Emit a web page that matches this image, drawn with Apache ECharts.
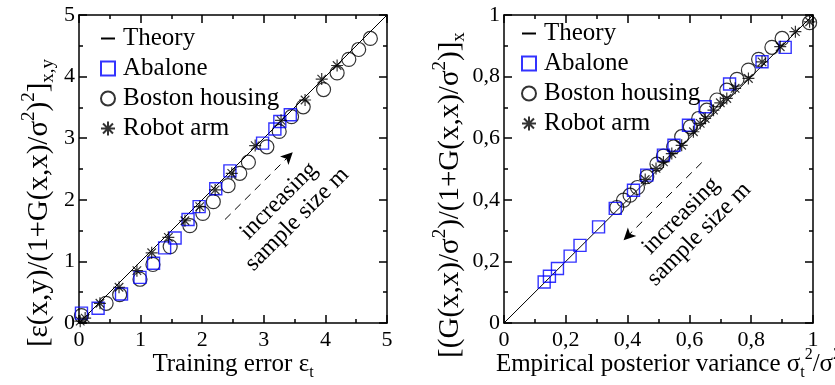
<!DOCTYPE html>
<html>
<head>
<meta charset="utf-8">
<script src="https://cdn.jsdelivr.net/npm/echarts@6/dist/echarts.min.js"></script>
<style>html,body{margin:0;padding:0;background:#fff}#c{width:835px;height:385px}</style>
</head>
<body>
<div id="c"></div>
<script>
// ---- Left panel: training error vs normalised generalisation error ----
var leftTheory = [[0, 0], [5, 5]];
var leftAbalone = [[0.04,0.16],[0.31,0.24],[0.69,0.47],[0.99,0.74],[1.21,0.97],[1.39,1.22],[1.56,1.38],[1.77,1.68],[1.95,1.89],[2.22,2.18],[2.45,2.47],[2.98,2.92],[3.18,3.15],[3.26,3.27],[3.43,3.38]];
var leftBoston = [[0.04,0.12],[0.44,0.32],[0.66,0.46],[0.99,0.71],[1.20,0.95],[1.48,1.24],[1.80,1.58],[2.01,1.78],[2.18,1.97],[2.42,2.23],[2.61,2.43],[2.75,2.61],[3.05,2.86],[3.25,3.11],[3.45,3.35],[3.64,3.51],[3.97,3.79],[4.19,4.06],[4.38,4.28],[4.54,4.44],[4.73,4.62]];
var leftRobot = [[0.02,0.03],[0.10,0.08],[0.34,0.32],[0.65,0.58],[0.94,0.85],[1.18,1.14],[1.45,1.39],[1.72,1.66],[1.96,1.89],[2.21,2.16],[2.48,2.43],[2.86,2.88],[3.28,3.29],[3.67,3.62],[3.94,3.96],[4.19,4.18]];
var leftArrow = [[2.37, 1.68], [3.47, 2.77]];

// ---- Right panel: empirical posterior variance ----
var rightTheory = [[0, 0], [1, 1]];
var rightAbalone = [[0.130,0.133],[0.147,0.152],[0.173,0.177],[0.214,0.217],[0.246,0.252],[0.306,0.312],[0.360,0.372],[0.419,0.431],[0.462,0.480],[0.516,0.545],[0.550,0.577],[0.597,0.642],[0.651,0.702],[0.730,0.776],[0.835,0.848],[0.910,0.895]];
var rightBoston = [[0.365,0.375],[0.387,0.399],[0.408,0.415],[0.432,0.440],[0.462,0.475],[0.495,0.516],[0.516,0.542],[0.549,0.572],[0.575,0.605],[0.603,0.637],[0.630,0.664],[0.656,0.691],[0.689,0.724],[0.721,0.756],[0.754,0.791],[0.791,0.821],[0.824,0.856],[0.867,0.895],[0.900,0.924],[0.989,0.975]];
var rightRobot = [[0.457,0.466],[0.492,0.502],[0.516,0.523],[0.543,0.550],[0.575,0.577],[0.613,0.621],[0.635,0.648],[0.651,0.664],[0.678,0.691],[0.700,0.715],[0.721,0.729],[0.748,0.762],[0.791,0.794],[0.835,0.848],[0.894,0.897],[0.943,0.946],[0.989,0.978]];
var rightArrow = [[0.64, 0.521], [0.387, 0.269]];

var seriesNames = ['Theory', 'Abalone', 'Boston housing', 'Robot arm'];
var annotationText = 'increasing\nsample size m';

var FONT = 'Liberation Serif';
var STAR = 'path://M0,-1L0,1M-1,0L1,0M-0.71,-0.71L0.71,0.71M-0.71,0.71L0.71,-0.71';

function richFor(size, small, lh) {
  return {
    m: {fontFamily: FONT, fontSize: size, lineHeight: lh, color: '#000'},
    s: {fontFamily: FONT, fontSize: small, lineHeight: small - 1, verticalAlign: 'top', color: '#000'},
    b: {fontFamily: FONT, fontSize: small, lineHeight: small - 1, verticalAlign: 'bottom', color: '#000'}
  };
}
var richX = richFor(25, 16, 34);
var richY = richFor(29, 19, 38);

function axisBase(extra) {
  var a = {
    nameMoveOverlap: false,
    axisLine: {show: true, onZero: false, lineStyle: {color: '#000', width: 1.5}},
    axisTick: {show: true, inside: true, length: 8, lineStyle: {color: '#000', width: 1.5}},
    minorTick: {show: true, splitNumber: 2, length: 4, lineStyle: {color: '#000', width: 1.5}},
    splitLine: {show: false},
    axisLabel: {show: true, fontFamily: FONT, fontSize: 22, color: '#000', margin: 6}
  };
  for (var k in extra) a[k] = extra[k];
  return a;
}
function commaFmt(v) {
  if (Math.abs(v) < 1e-9) return '0';
  if (Math.abs(v - 1) < 1e-9) return '1';
  return v.toFixed(1).replace('.', ',');
}

var hidden = {show: false};

var xAxes = [
  axisBase({gridIndex: 0, type: 'value', min: 0, max: 5, interval: 1, position: 'bottom',
    name: '{m|Training error ε}{b|t}', nameLocation: 'middle', nameGap: 24,
    nameTextStyle: {rich: richX}}),
  axisBase({gridIndex: 0, type: 'value', min: 0, max: 5, interval: 1, position: 'top', axisLabel: hidden}),
  axisBase({gridIndex: 1, type: 'value', min: 0, max: 1, interval: 0.2, position: 'bottom',
    name: '{m|Empirical posterior variance σ}{b|t}{s|2}{m|/σ}{s|2}', nameLocation: 'middle', nameGap: 24,
    nameTextStyle: {rich: richX, padding: [0, 0, 0, 20]}}),
  axisBase({gridIndex: 1, type: 'value', min: 0, max: 1, interval: 0.2, position: 'top', axisLabel: hidden})
];
xAxes[2].axisLabel.formatter = commaFmt;

var yAxes = [
  axisBase({gridIndex: 0, type: 'value', min: 0, max: 5, interval: 1, position: 'left',
    name: '{m|[ε(x,y)/(1+G(x,x)/σ}{s|2}{m|)}{s|2}{m|]}{b|x,y}', nameLocation: 'middle', nameGap: 21, nameRotate: 90,
    nameTextStyle: {rich: richY, padding: [0, 68, 0, 0]}}),
  axisBase({gridIndex: 0, type: 'value', min: 0, max: 5, interval: 1, position: 'right', axisLabel: hidden}),
  axisBase({gridIndex: 1, type: 'value', min: 0, max: 1, interval: 0.2, position: 'left',
    name: '{m|[(G(x,x)/σ}{s|2}{m|)/(1+G(x,x)/σ}{s|2}{m|)]}{b|x}', nameLocation: 'middle', nameGap: 35, nameRotate: 90,
    nameTextStyle: {rich: richY, padding: [0, 52, 0, 0]}}),
  axisBase({gridIndex: 1, type: 'value', min: 0, max: 1, interval: 0.2, position: 'right', axisLabel: hidden})
];
yAxes[0].axisLabel.margin = 4;
yAxes[2].axisLabel.formatter = commaFmt;
yAxes[2].axisLabel.margin = 4;

function theory(data, xi, yi, arrow) {
  return {
    name: seriesNames[0], type: 'line', xAxisIndex: xi, yAxisIndex: yi, data: data,
    symbol: 'none', lineStyle: {color: '#000', width: 1}, itemStyle: {color: '#000'}, z: 1,
    markLine: {
      silent: true, symbol: ['none', 'arrow'], symbolSize: [9, 12],
      label: {show: false},
      lineStyle: {color: '#000', width: 1, type: [8, 6]},
      data: [[{coord: arrow[0]}, {coord: arrow[1]}]]
    }
  };
}
function abalone(data, xi, yi) {
  return {name: seriesNames[1], type: 'scatter', xAxisIndex: xi, yAxisIndex: yi, data: data, clip: false,
    symbol: 'rect', symbolSize: 12,
    itemStyle: {color: 'rgba(0,0,0,0)', borderColor: '#0000ff', borderWidth: 1.4}, z: 3};
}
function boston(data, xi, yi) {
  return {name: seriesNames[2], type: 'scatter', xAxisIndex: xi, yAxisIndex: yi, data: data, clip: false,
    symbol: 'circle', symbolSize: 14,
    itemStyle: {color: 'rgba(0,0,0,0)', borderColor: '#000', borderWidth: 1.2}, z: 2};
}
function robot(data, xi, yi) {
  return {name: seriesNames[3], type: 'scatter', xAxisIndex: xi, yAxisIndex: yi, data: data, clip: false,
    symbol: STAR, symbolSize: 12,
    itemStyle: {color: 'rgba(0,0,0,0)', borderColor: '#000', borderWidth: 1.2}, z: 4};
}

function legend(left, top) {
  var items = seriesNames.map(function (n, i) {
    if (i === 0) return {name: n, itemStyle: {color: 'rgba(0,0,0,0)', borderWidth: 0, opacity: 0}};
    return {name: n};
  });
  return {
    orient: 'vertical', left: left, top: top, data: items, selectedMode: false,
    itemWidth: 14, itemHeight: 14, itemGap: 5,
    textStyle: {fontFamily: FONT, fontSize: 25, lineHeight: 25, color: '#000', padding: [0, 0, 0, 3]}
  };
}

var chart = echarts.init(document.getElementById('c'), null, {renderer: 'canvas'});
chart.setOption({
  animation: false,
  backgroundColor: '#fff',
  grid: [
    {left: 79, top: 15, width: 308, height: 308, containLabel: false, outerBoundsMode: 'none'},
    {left: 504, top: 15, width: 309, height: 308, containLabel: false, outerBoundsMode: 'none'}
  ],
  xAxis: xAxes,
  yAxis: yAxes,
  legend: [legend(95, 21), legend(516, 16)],
  series: [
    theory(leftTheory, 0, 0, leftArrow), abalone(leftAbalone, 0, 0), boston(leftBoston, 0, 0), robot(leftRobot, 0, 0),
    theory(rightTheory, 2, 2, rightArrow), abalone(rightAbalone, 2, 2), boston(rightBoston, 2, 2), robot(rightRobot, 2, 2)
  ],
  graphic: [
    {type: 'text', x: 288, y: 210, rotation: Math.PI / 4,
      style: {text: annotationText, fontFamily: FONT, fontSize: 24, lineHeight: 26, fill: '#000', align: 'center', verticalAlign: 'middle'}},
    {type: 'text', x: 690, y: 225, rotation: Math.PI / 4,
      style: {text: annotationText, fontFamily: FONT, fontSize: 24, lineHeight: 26, fill: '#000', align: 'center', verticalAlign: 'middle'}}
  ]
});
</script>
</body>
</html>
